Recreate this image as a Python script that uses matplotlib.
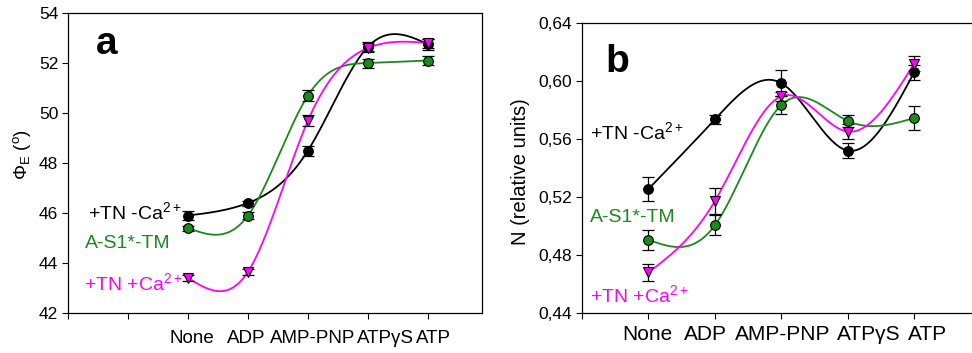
import numpy as np
import matplotlib
matplotlib.use("Agg")
import matplotlib.pyplot as plt
from matplotlib.ticker import FuncFormatter
from matplotlib.transforms import ScaledTranslation

plt.rcParams['font.family'] = ['Liberation Sans', 'DejaVu Sans']
plt.rcParams['mathtext.fontset'] = 'custom'
plt.rcParams['mathtext.rm'] = 'Liberation Sans'
plt.rcParams['mathtext.it'] = 'Liberation Sans:italic'
plt.rcParams['mathtext.default'] = 'regular'

categories = ["None", "ADP", "AMP-PNP", "ATP\u03b3S", "ATP"]
xpos = [2, 3, 4, 5, 6]

# panel a: PhiE (deg)
phi_tn_noca = [45.9, 46.4, 48.5, 52.65, 52.75]
phi_tn_noca_err = [0.18, 0.1, 0.2, 0.18, 0.22]
phi_as1 = [45.4, 45.9, 50.7, 52.0, 52.1]
phi_as1_err = [0.1, 0.15, 0.2, 0.18, 0.18]
phi_tn_ca = [43.4, 43.65, 49.7, 52.6, 52.8]
phi_tn_ca_err = [0.12, 0.12, 0.22, 0.15, 0.18]

# panel b: N (relative units)
n_tn_noca = [0.5255, 0.5735, 0.5985, 0.552, 0.606]
n_tn_noca_err = [0.008, 0.003, 0.009, 0.005, 0.005]
n_as1 = [0.4905, 0.5005, 0.5835, 0.5725, 0.5745]
n_as1_err = [0.007, 0.007, 0.006, 0.004, 0.008]
n_tn_ca = [0.468, 0.5172, 0.5895, 0.5651, 0.612]
n_tn_ca_err = [0.006, 0.009, 0.003, 0.005, 0.005]

BLACK = "#000000"
GREEN = "#1a8a1a"
MAGENTA = "#ff00ff"

# labels in the original sit a bit off their ticks (pixels)
shift_a = [4, -2, 5, 17, 5]
shift_b = [-1, -9, 1, 21, 13]


def natural_spline(x, y, n=200):
    x = np.asarray(x, float)
    y = np.asarray(y, float)
    k = len(x)
    h = np.diff(x)
    A = np.zeros((k, k))
    r = np.zeros(k)
    A[0, 0] = A[-1, -1] = 1
    for i in range(1, k - 1):
        A[i, i - 1] = h[i - 1]
        A[i, i] = 2 * (h[i - 1] + h[i])
        A[i, i + 1] = h[i]
        r[i] = 6 * ((y[i + 1] - y[i]) / h[i] - (y[i] - y[i - 1]) / h[i - 1])
    m = np.linalg.solve(A, r)
    xs = np.linspace(x[0], x[-1], n)
    ys = np.empty_like(xs)
    for j, t in enumerate(xs):
        i = min(np.searchsorted(x, t, side='right') - 1, k - 2)
        a = x[i + 1] - t
        b = t - x[i]
        ys[j] = (m[i] * a ** 3 + m[i + 1] * b ** 3) / (6 * h[i]) \
            + (y[i] / h[i] - m[i] * h[i] / 6) * a \
            + (y[i + 1] / h[i] - m[i + 1] * h[i] / 6) * b
    return xs, ys


def draw_series(ax, y, err, color, marker):
    xs, ys = natural_spline(xpos, y)
    ax.plot(xs, ys, color=color, lw=1.3, zorder=2)
    ax.errorbar(xpos, y, yerr=err, fmt='none', ecolor='black', elinewidth=0.9,
                capsize=4, capthick=0.9, zorder=3)
    ax.plot(xpos, y, linestyle='none', marker=marker, ms=7 if marker == 'o' else 7.5,
            mfc=color, mec='black', mew=0.8, zorder=4)


def shift_labels(ax, shifts):
    labs = [t for t in ax.get_xticklabels() if t.get_text()]
    for t, dx in zip(labs, shifts):
        t.set_transform(t.get_transform() + ScaledTranslation(dx / 100, 0, fig.dpi_scale_trans))


fig = plt.figure(figsize=(9.72, 3.53), dpi=100)
W, H = 972, 353

axa = fig.add_axes([68 / W, (H - 313) / H, 414 / W, 300 / H])
axb = fig.add_axes([582 / W, (H - 313) / H, 390 / W, 290 / H])

# ---- panel a
draw_series(axa, phi_tn_noca, phi_tn_noca_err, BLACK, 'o')
draw_series(axa, phi_as1, phi_as1_err, GREEN, 'o')
draw_series(axa, phi_tn_ca, phi_tn_ca_err, MAGENTA, 'v')
axa.set_xlim(0, 6.9)
axa.set_ylim(42, 54)
axa.set_yticks(np.arange(42, 55, 2))
axa.set_xticks(range(0, 7))
axa.set_xticklabels([""] * 2 + categories)
axa.set_ylabel(r"$\Phi_E$ ($^o$)", fontsize=13.5)
axa.yaxis.set_label_coords(-0.085, 0.527)
axa.text(0.068, 0.863, "a", transform=axa.transAxes, fontsize=28, fontweight='bold')
axa.text(0.048, 0.337, "+TN -Ca$^{2+}$", transform=axa.transAxes, fontsize=14,
         color=BLACK, va='center')
axa.text(0.041, 0.233, "A-S1*-TM", transform=axa.transAxes, fontsize=14,
         color=GREEN, va='center')
axa.text(0.039, 0.1, "+TN +Ca$^{2+}$", transform=axa.transAxes, fontsize=14,
         color=MAGENTA, va='center')

# ---- panel b
draw_series(axb, n_tn_noca, n_tn_noca_err, BLACK, 'o')
draw_series(axb, n_as1, n_as1_err, GREEN, 'o')
draw_series(axb, n_tn_ca, n_tn_ca_err, MAGENTA, 'v')
axb.set_xlim(1, 6.87)
axb.set_ylim(0.44, 0.64)
axb.set_yticks(np.arange(0.44, 0.641, 0.04))
axb.yaxis.set_major_formatter(FuncFormatter(lambda v, p: f"{v:.2f}".replace('.', ',')))
axb.set_xticks(range(1, 7))
axb.set_xticklabels([""] + categories)
axb.spines['right'].set_visible(False)
axb.set_ylabel("N (relative units)", fontsize=14.5)
axb.yaxis.set_label_coords(-0.133, 0.486)
axb.text(0.059, 0.831, "b", transform=axb.transAxes, fontsize=28, fontweight='bold')
axb.text(0.02, 0.624, "+TN -Ca$^{2+}$", transform=axb.transAxes, fontsize=14,
         color=BLACK, va='center')
axb.text(0.02, 0.331, "A-S1*-TM", transform=axb.transAxes, fontsize=14,
         color=GREEN, va='center')
axb.text(0.02, 0.062, "+TN +Ca$^{2+}$", transform=axb.transAxes, fontsize=14,
         color=MAGENTA, va='center')

for ax in (axa, axb):
    ax.tick_params(direction='out', length=4, width=0.8, labelsize=12.5, pad=3)
    for s in ax.spines.values():
        s.set_linewidth(0.9)
axa.tick_params(axis='x', labelsize=13.5, pad=8)
axb.tick_params(axis='x', labelsize=15, pad=5)

shift_labels(axa, shift_a)
shift_labels(axb, shift_b)

fig.savefig("out.png", dpi=100)
